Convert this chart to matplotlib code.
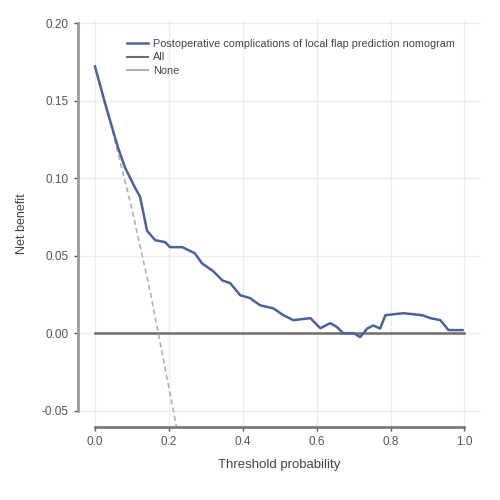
import matplotlib
matplotlib.use("Agg")
from matplotlib import pyplot as plt
from matplotlib.lines import Line2D

plt.rcParams['font.family'] = ['Liberation Sans Narrow', 'Liberation Sans', 'DejaVu Sans']

# nomogram net benefit curve
t_model = [0.0, 0.03, 0.062, 0.081, 0.108, 0.122, 0.141, 0.163, 0.19, 0.203, 0.236,
           0.27, 0.29, 0.32, 0.345, 0.366, 0.393, 0.42, 0.447, 0.483, 0.51, 0.537,
           0.583, 0.61, 0.637, 0.655, 0.672, 0.70, 0.718, 0.737, 0.753, 0.772,
           0.786, 0.835, 0.886, 0.908, 0.935, 0.957, 0.995]
nb_model = [0.172, 0.146, 0.120, 0.107, 0.094, 0.088, 0.066, 0.060, 0.0587, 0.0555, 0.0555,
            0.0516, 0.045, 0.040, 0.034, 0.0323, 0.0245, 0.0226, 0.018, 0.016, 0.0116, 0.0084,
            0.0097, 0.0032, 0.0065, 0.004, 0.0, 0.0, -0.0025, 0.003, 0.005, 0.003,
            0.0116, 0.0129, 0.0116, 0.0097, 0.0084, 0.002, 0.002]

# treat-all line
t_all = [0.0, 0.05, 0.10, 0.15, 0.20, 0.222]
nb_all = [0.172, 0.128, 0.080, 0.026, -0.035, -0.062]

# treat-none line
t_none = [0.0, 1.0]
nb_none = [0.0, 0.0]

legend_labels = ["Postoperative complications of local flap prediction nomogram", "All", "None"]

fig = plt.figure(figsize=(5, 5), dpi=100)
ax = fig.add_axes([0.156, 0.146, 0.806, 0.814])

ax.grid(True, color="#ececec", linewidth=1)
ax.set_axisbelow(True)

ax.plot(t_none, nb_none, color="#6e6e6e", linewidth=1.8)
ax.plot(t_all, nb_all, color="#b0b0b0", linewidth=1.2, linestyle=(0, (3, 2)))
ax.plot(t_model, nb_model, color="#4a62a0", linewidth=1.8)

ax.set_xlim(-0.046, 1.045)
ax.set_ylim(-0.0605, 0.202)
ax.set_xticks([0.0, 0.2, 0.4, 0.6, 0.8, 1.0])
ax.set_xticklabels(["0.0", "0.2", "0.4", "0.6", "0.8", "1.0"])
ax.set_yticks([-0.05, 0.0, 0.05, 0.10, 0.15, 0.20])
ax.set_yticklabels(["-0.05", "0.00", "0.05", "0.10", "0.15", "0.20"])

for s in ["top", "right"]:
    ax.spines[s].set_visible(False)
ax.spines["left"].set_bounds(-0.05, 0.20)
ax.spines["bottom"].set_bounds(0.0, 1.0)
ax.spines["left"].set_color("#9a9a9a")
ax.spines["bottom"].set_color("#7a7a7a")
ax.spines["left"].set_linewidth(2)
ax.spines["bottom"].set_linewidth(2)
ax.tick_params(colors="#555555", labelsize=8.5, length=3, width=1)

ax.set_xlabel("Threshold probability", fontsize=9.5, color="#444444", labelpad=8)
ax.set_ylabel("Net benefit", fontsize=9, color="#444444", labelpad=10)

handles = [Line2D([], [], color="#4a62a0", linewidth=1.8),
           Line2D([], [], color="#6e6e6e", linewidth=1.5),
           Line2D([], [], color="#b0b0b0", linewidth=1.5)]
leg = ax.legend(handles, legend_labels, loc="upper left", bbox_to_anchor=(0.11, 0.965),
                frameon=False, fontsize=7.8, handlelength=2.0, handletextpad=0.4,
                labelspacing=0.35, borderaxespad=0)
for txt in leg.get_texts():
    txt.set_color("#444444")

fig.savefig("out.png", dpi=100)
